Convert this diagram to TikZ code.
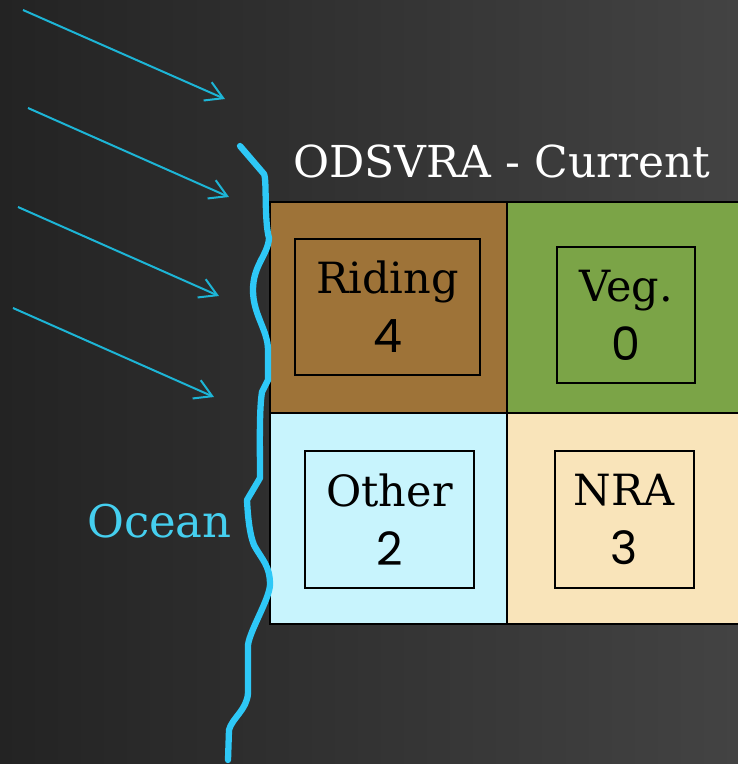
\documentclass[tikz,border=0pt]{standalone}
\usepackage{fontspec}
\setmainfont{DejaVu Serif}
\newfontfamily\digitfont{Poppins}
\usetikzlibrary{arrows.meta}
\definecolor{bgL}{HTML}{232323}
\definecolor{bgR}{HTML}{434343}
\definecolor{waveC}{HTML}{1DB5D6}
\definecolor{coastC}{HTML}{2EC8F7}
\definecolor{oceanC}{HTML}{45CFEF}
\definecolor{ridingC}{HTML}{9E7338}
\definecolor{vegC}{HTML}{7BA447}
\definecolor{otherC}{HTML}{C8F4FD}
\definecolor{nraC}{HTML}{F9E4BA}
\tikzset{
  cell/.style={draw=black, line width=2.8pt, minimum width=237pt, minimum height=211pt, inner sep=0pt},
  inbox/.style={draw=black, line width=1.8pt, minimum height=136pt, inner sep=0pt, align=center,
    font=\fontsize{43}{59}\selectfont},
  dig/.style={},
  wave/.style={draw=waveC, line width=2pt, -{Straight Barb[length=17pt,width=20pt,line width=2pt]}},
  coast/.style={draw=coastC, line width=6.3pt, line cap=round, line join=round},
}
\newcommand{\dg}[1]{{\digitfont\fontsize{46}{59}\selectfont #1}}
\begin{document}
\begin{tikzpicture}[x=1pt,y=-1pt]
\useasboundingbox (0,0) rectangle (738,764);
\shade[left color=bgL, right color=bgR] (0,0) rectangle (738,764);
\begin{scope}
\clip (0,0) rectangle (738,764);
% cells
\node[cell, fill=ridingC] (cR) at (388.5,307.5) {};
\node[cell, fill=vegC] (cV) at (625.5,307.5) {};
\node[cell, fill=otherC] (cO) at (388.5,518.5) {};
\node[cell, fill=nraC] (cN) at (625.5,518.5) {};
\end{scope}
% inner boxes
\node[inbox, minimum width=185pt] (bR) at (387.5,307) {Riding\\\dg{4}};
\node[inbox, minimum width=138pt] (bV) at (626,315) {Veg.\\\dg{0}};
\node[inbox, minimum width=169pt, minimum height=137pt] (bO) at (389.5,519.5) {Other\\\dg{2}};
\node[inbox, minimum width=139pt, minimum height=137pt] (bN) at (624.5,519.5) {NRA\\\dg{3}};
% title
\node[text=white, anchor=base, inner sep=0pt, font=\fontsize{44}{44}\selectfont] (title) at (502,177) {ODSVRA - Current};
% ocean label
\node[text=oceanC, anchor=base, inner sep=0pt, font=\fontsize{45}{45}\selectfont] (ocean) at (159.5,537) {Ocean};
% waves
\coordinate (w1s) at (23,10);  \coordinate (w1e) at (225,99);
\coordinate (w2s) at (28,108); \coordinate (w2e) at (229,197);
\coordinate (w3s) at (18,207); \coordinate (w3e) at (219,296);
\coordinate (w4s) at (13,308); \coordinate (w4e) at (214,397);
\draw[wave] (w1s) -- (w1e);
\draw[wave] (w2s) -- (w2e);
\draw[wave] (w3s) -- (w3e);
\draw[wave] (w4s) -- (w4e);
% coastline
\draw[coast] (240,146) -- (264,174)
  .. controls (267,180) and (264,220) .. (269,238)
  .. controls (268,255) and (253,265) .. (253,290)
  .. controls (253,315) and (268,330) .. (268,350)
  -- (268,380) -- (262,392)
  .. controls (259,410) and (260,450) .. (260,478)
  -- (247,500)
  .. controls (248,520) and (250,535) .. (254,545)
  .. controls (262,560) and (270,565) .. (270,585)
  .. controls (269,600) and (250,630) .. (248,645)
  -- (248,693)
  .. controls (247,710) and (232,718) .. (229,730)
  -- (228,760);
\end{tikzpicture}
\end{document}
